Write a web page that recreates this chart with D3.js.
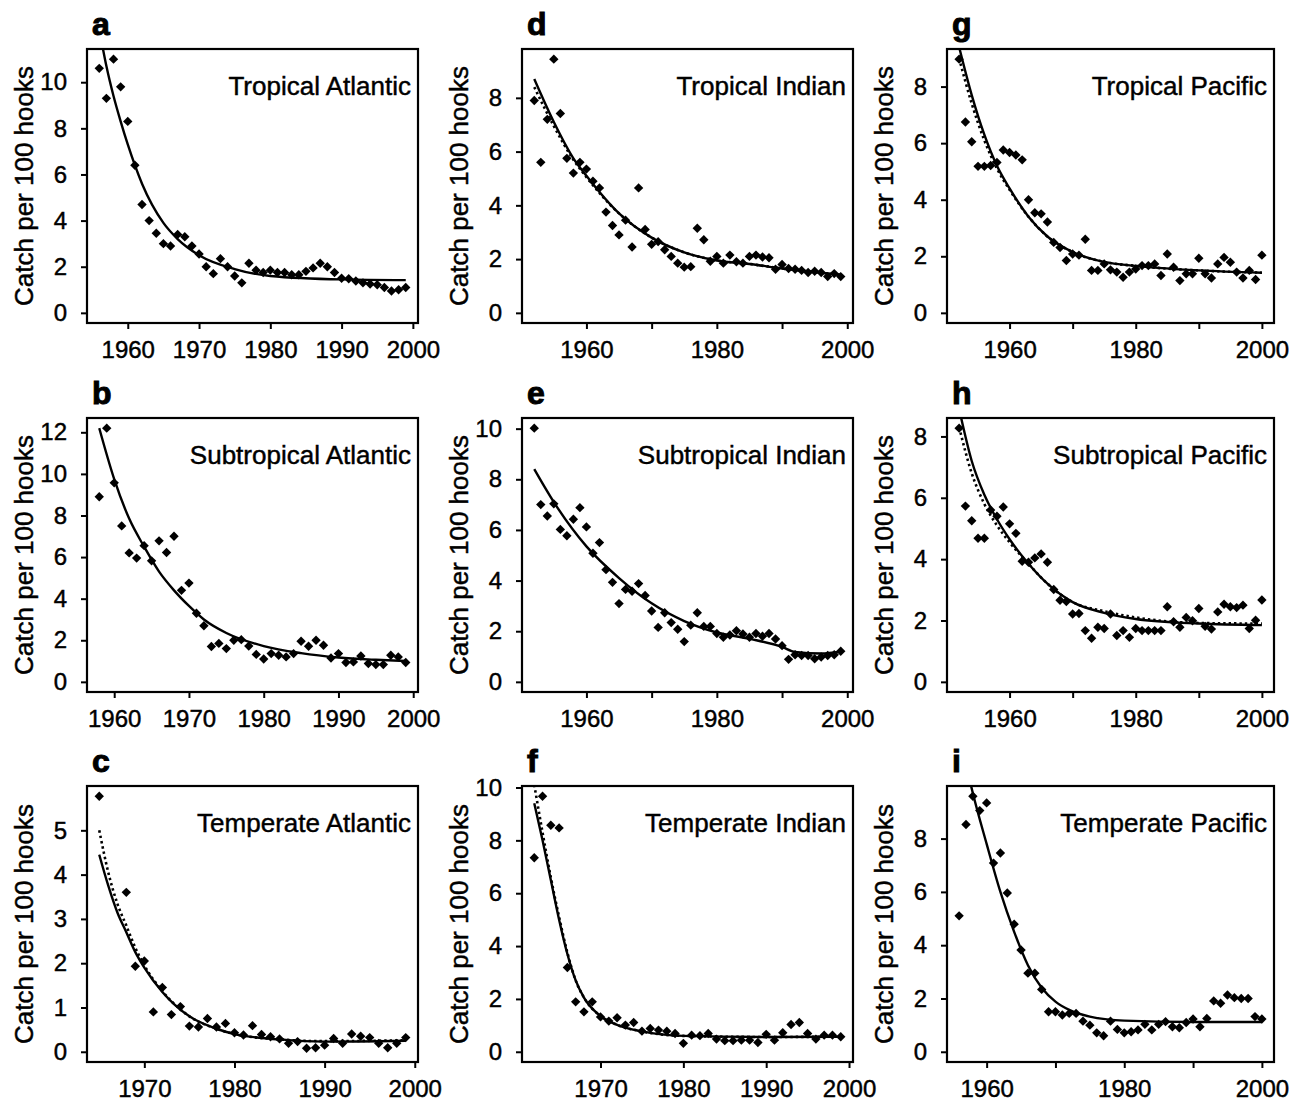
<!DOCTYPE html>
<html>
<head>
<meta charset="utf-8">
<script src="https://cdn.jsdelivr.net/npm/d3@7"></script>
<style>
  body { margin: 0; background: #fff; }
  text { font-family: "Liberation Sans", Arial, Helvetica, sans-serif; fill: #000; stroke: #000; stroke-width: 0.45px; }
</style>
</head>
<body>
<div id="chart"></div>
<script>
// ---------------------------- DATA ----------------------------
const panelLetters = ["a", "b", "c", "d", "e", "f", "g", "h", "i"];
const panelTitles = ["Tropical Atlantic", "Subtropical Atlantic", "Temperate Atlantic",
  "Tropical Indian", "Subtropical Indian", "Temperate Indian",
  "Tropical Pacific", "Subtropical Pacific", "Temperate Pacific"];
const firstYears = [1956, 1958, 1965, 1952, 1952, 1962, 1952, 1952, 1956];

// catch per 100 hooks, one value per year from firstYears (null = no data)
const aCatch = [10.6, 9.3, 11.0, 9.8, 8.3, 6.4, 4.7, 4.0, 3.45, 3.0, 2.9, 3.4, 3.3, 2.9, 2.55,
  2.0, 1.7, 2.35, 2.0, 1.6, 1.3, 2.15, 1.85, 1.75, 1.85, 1.75, 1.75, 1.65, 1.65, 1.8, 1.95, 2.15,
  2.0, 1.75, 1.5, 1.48, 1.38, 1.3, 1.25, 1.22, 1.1, 0.95, 1.0, 1.1];
const bCatch = [8.9, 12.2, 9.57, 7.5, 6.2, 5.95, 6.55, 5.82, 6.78, 6.22, 7.0, 4.4, 4.75, 3.3, 2.7,
  1.7, 1.85, 1.6, 2.0, 2.03, 1.72, 1.32, 1.1, 1.36, 1.28, 1.2, 1.36, 1.95, 1.71, 2.0, 1.76, 1.15,
  1.36, 0.93, 0.96, 1.24, 0.88, 0.83, 0.83, 1.28, 1.2, 0.93];
const cCatch = [5.77, null, null, 3.6, 1.93, 2.05, 0.9, 1.45, 0.84, 1.02, 0.58, 0.56, 0.75, 0.56,
  0.64, 0.43, 0.38, 0.59, 0.39, 0.34, 0.29, 0.19, 0.23, 0.08, 0.09, 0.15, 0.3, 0.19, 0.4, 0.35,
  0.32, 0.19, 0.09, 0.19, 0.32];
const dCatch = [7.9, 5.6, 7.2, 9.44, 7.42, 5.75, 5.2, 5.6, 5.35, 4.9, 4.65, 3.75, 3.25, 2.9, 3.45,
  2.45, 4.65, 3.1, 2.55, 2.65, 2.35, 2.1, 1.85, 1.7, 1.72, 3.15, 2.72, 1.92, 2.1, 1.85, 2.15, 1.9,
  1.85, 2.1, 2.15, 2.08, 2.05, 1.62, 1.8, 1.65, 1.62, 1.58, 1.5, 1.55, 1.5, 1.35, 1.46, 1.35];
const eCatch = [10.02, 7.0, 6.55, 7.03, 6.02, 5.77, 6.42, 6.88, 6.12, 5.08, 5.5, 4.43, 3.93, 3.09,
  3.65, 3.58, 3.88, 3.41, 2.8, 2.15, 2.73, 2.34, 2.08, 1.59, 2.24, 2.73, 2.19, 2.19, 1.91, 1.76,
  1.85, 2.02, 1.89, 1.76, 1.91, 1.8, 1.91, 1.69, 1.43, 0.89, 1.07, 1.04, 1.04, 0.91, 0.98, 1.04,
  1.07, 1.21];
const fCatch = [7.34, 9.67, 8.57, 8.47, 3.19, 1.89, 1.51, 1.89, 1.32, 1.16, 1.29, 1.01, 1.11, 0.78,
  0.88, 0.82, 0.78, 0.69, 0.32, 0.63, 0.61, 0.69, 0.48, 0.42, 0.42, 0.44, 0.44, 0.35, 0.66, 0.44,
  0.72, 1.03, 1.11, 0.69, 0.48, 0.63, 0.63, 0.57];
const gCatch = [8.97, 6.75, 6.05, 5.18, 5.18, 5.21, 5.32, 5.76, 5.67, 5.58, 5.41, 4.0, 3.54, 3.5,
  3.21, 2.49, 2.31, 1.85, 2.08, 2.04, 2.6, 1.5, 1.5, 1.73, 1.52, 1.44, 1.26, 1.44, 1.55, 1.67,
  1.67, 1.73, 1.32, 2.08, 1.61, 1.14, 1.38, 1.38, 1.93, 1.38, 1.23, 1.73, 1.96, 1.79, 1.44, 1.23,
  1.5, 1.18, 2.04];
const hCatch = [8.27, 5.73, 5.25, 4.68, 4.68, 5.6, 5.4, 5.7, 5.15, 4.84, 3.93, 3.9, 4.04, 4.17,
  3.9, 3.01, 2.66, 2.62, 2.21, 2.23, 1.67, 1.42, 1.78, 1.74, 2.21, 1.51, 1.67, 1.45, 1.74, 1.67,
  1.67, 1.67, 1.67, 2.45, 1.96, 1.78, 2.1, 1.99, 2.39, 1.81, 1.72, 2.28, 2.53, 2.45, 2.42, 2.5,
  1.74, 2.01, 2.67];
const iCatch = [5.1, 8.53, 9.59, 9.05, 9.34, 7.08, 7.46, 5.96, 4.79, 3.82, 2.95, 2.95, 2.34, 1.5,
  1.5, 1.38, 1.44, 1.44, 1.15, 1.0, 0.71, 0.6, 1.15, 0.84, 0.71, 0.75, 0.82, 1.03, 0.82, 1.03,
  1.13, 0.94, 0.9, 1.1, 1.23, 0.94, 1.25, 1.91, 1.82, 2.13, 2.03, 2.0, 2.0, 1.32, 1.23];

const aFitYears = [1956, 1957, 1958, 1959, 1960, 1962, 1965, 1967, 1970, 1975, 1980, 1990, 1999];
const aFit = [12.3, 10.7, 9.4, 8.3, 7.3, 5.6, 3.9, 3.2, 2.5, 1.9, 1.6, 1.45, 1.42];
const bFitYears = [1958, 1960, 1962, 1964, 1966, 1968, 1970, 1972, 1975, 1980, 1985, 1990, 1995, 1999];
const bFit = [12.2, 9.75, 7.85, 6.5, 5.3, 4.4, 3.65, 3.0, 2.35, 1.72, 1.38, 1.17, 1.06, 1.0];
const cFitYears = [1965, 1966, 1967, 1968, 1969, 1970, 1972, 1975, 1978, 1980, 1985, 1990, 1999];
const cFit = [4.45, 3.75, 3.15, 2.7, 2.25, 1.9, 1.35, 0.8, 0.52, 0.4, 0.28, 0.23, 0.25];
const cFitDot = [5.0, 4.05, 3.35, 2.85, 2.35, 1.95, 1.37, 0.8, 0.52, 0.4, 0.28, 0.24, 0.26];
const dFitYears = [1952, 1955, 1958, 1960, 1965, 1970, 1975, 1980, 1985, 1990, 1999];
const dFit = [8.7, 7.1, 5.75, 5.1, 3.7, 2.8, 2.25, 1.95, 1.82, 1.65, 1.42];
const dFitDot = [8.4, 6.95, 5.7, 5.05, 3.7, 2.8, 2.25, 1.95, 1.82, 1.65, 1.42];
const eFitYears = [1952, 1955, 1960, 1965, 1970, 1975, 1980, 1985, 1990, 1992, 1996, 1999];
const eFit = [8.4, 7.1, 5.35, 4.1, 3.1, 2.4, 1.95, 1.7, 1.38, 1.18, 1.12, 1.2];
const fFitYears = [1962, 1963, 1964, 1965, 1966, 1967, 1968, 1970, 1972, 1975, 1980, 1990, 1999];
const fFit = [9.4, 8.0, 6.5, 5.0, 3.7, 2.7, 2.05, 1.35, 1.02, 0.77, 0.6, 0.56, 0.57];
const fFitDot = [10.1, 8.3, 6.6, 5.1, 3.75, 2.7, 2.05, 1.35, 1.02, 0.77, 0.6, 0.56, 0.57];
const gFitYears = [1952, 1954, 1956, 1958, 1960, 1963, 1966, 1970, 1975, 1980, 1990, 2000];
const gFit = [9.4, 7.7, 6.3, 5.2, 4.4, 3.4, 2.7, 2.15, 1.8, 1.66, 1.5, 1.42];
const gFitDot = [9.0, 7.4, 6.1, 5.1, 4.35, 3.4, 2.7, 2.15, 1.8, 1.66, 1.5, 1.42];
const hFitYears = [1952, 1954, 1956, 1958, 1960, 1963, 1966, 1970, 1975, 1980, 1990, 2000];
const hFit = [8.9, 7.2, 6.1, 5.3, 4.65, 3.85, 3.2, 2.6, 2.25, 2.05, 1.9, 1.85];
const hFitDot = [8.3, 6.8, 5.8, 5.1, 4.55, 3.85, 3.2, 2.6, 2.3, 2.1, 1.92, 1.9];
const iFitYears = [1956, 1957, 1958, 1960, 1962, 1964, 1966, 1968, 1970, 1972, 1975, 1980, 1990, 2000];
const iFit = [12.0, 10.8, 9.7, 7.8, 6.0, 4.5, 3.25, 2.4, 1.88, 1.57, 1.32, 1.17, 1.12, 1.12];

// axis ticks
const yTicks = [[0, 2, 4, 6, 8, 10], [0, 2, 4, 6, 8, 10, 12], [0, 1, 2, 3, 4, 5],
  [0, 2, 4, 6, 8], [0, 2, 4, 6, 8, 10], [0, 2, 4, 6, 8, 10],
  [0, 2, 4, 6, 8], [0, 2, 4, 6, 8], [0, 2, 4, 6, 8]];
const xTicks60 = [1960, 1970, 1980, 1990, 2000];
const xTicks70 = [1970, 1980, 1990, 2000];
const xLabels20 = [1960, 1980, 2000];

const panels = [
  { catch: aCatch, fitYears: aFitYears, fit: aFit, dot: null, xTicks: xTicks60, xLabels: xTicks60 },
  { catch: bCatch, fitYears: bFitYears, fit: bFit, dot: null, xTicks: xTicks60, xLabels: xTicks60 },
  { catch: cCatch, fitYears: cFitYears, fit: cFit, dot: cFitDot, xTicks: xTicks70, xLabels: xTicks70 },
  { catch: dCatch, fitYears: dFitYears, fit: dFit, dot: dFitDot, xTicks: xTicks60, xLabels: xLabels20 },
  { catch: eCatch, fitYears: eFitYears, fit: eFit, dot: null, xTicks: xTicks60, xLabels: xLabels20 },
  { catch: fCatch, fitYears: fFitYears, fit: fFit, dot: fFitDot, xTicks: xTicks70, xLabels: xTicks70 },
  { catch: gCatch, fitYears: gFitYears, fit: gFit, dot: gFitDot, xTicks: xTicks60, xLabels: xLabels20 },
  { catch: hCatch, fitYears: hFitYears, fit: hFit, dot: hFitDot, xTicks: xTicks60, xLabels: xLabels20 },
  { catch: iCatch, fitYears: iFitYears, fit: iFit, dot: null, xTicks: xTicks60, xLabels: xLabels20 }
];

// --------------------------- LAYOUT ---------------------------
const width = 1302;
const height = 1101;
const colLeft = [87, 522, 947];
const colWidth = [331, 331, 327];
const rowTop = [49, 418, 786];
const rowHeight = [274, 274, 276];

const svg = d3.select("#chart").append("svg")
  .attr("width", width)
  .attr("height", height);

const diamond = d3.symbol().type(d3.symbolSquare).size(44);

panels.forEach(function (p, k) {
  const col = Math.floor(k / 3), row = k % 3;
  const w = colWidth[col], h = rowHeight[row];

  const pts = p.catch.map(function (v, i) {
    return { year: firstYears[k] + i, value: v };
  }).filter(function (d) { return d.value !== null; });

  // R style axis limits: data range stretched by 4%
  const yr = d3.extent(pts, function (d) { return d.year; });
  const xpad = (yr[1] - yr[0]) * 0.04;
  const vmax = d3.max(pts, function (d) { return d.value; });

  const xScale = d3.scaleLinear().domain([yr[0] - xpad, yr[1] + xpad]).range([0, w]);
  const yScale = d3.scaleLinear().domain([-0.04 * vmax, 1.04 * vmax]).range([h, 0]);

  const g = svg.append("g")
    .attr("transform", "translate(" + colLeft[col] + "," + rowTop[row] + ")");

  g.append("clipPath").attr("id", "clip-" + k)
    .append("rect").attr("width", w).attr("height", h);

  //----------------------------AXES-----------------------------//
  const yaxis = d3.axisLeft(yScale)
    .tickValues(yTicks[k])
    .tickSize(6)
    .tickPadding(14)
    .tickFormat(d3.format("d"));
  const xaxis = d3.axisBottom(xScale)
    .tickValues(p.xTicks)
    .tickSize(6)
    .tickPadding(12)
    .tickFormat(function (d) { return p.xLabels.indexOf(d) >= 0 ? d : ""; });

  const gy = g.append("g").call(yaxis);
  const gx = g.append("g").attr("transform", "translate(0," + h + ")").call(xaxis);
  [gx, gy].forEach(function (a) {
    a.select(".domain").remove();
    a.selectAll("line").attr("stroke", "#000").attr("stroke-width", 2);
    a.selectAll("text")
      .attr("font-family", "'Liberation Sans', Arial, sans-serif")
      .style("font-size", "24px")
      .attr("fill", "#000");
  });

  g.append("text")
    .attr("transform", "translate(-54," + (h / 2) + ") rotate(-90)")
    .attr("text-anchor", "middle")
    .style("font-size", "26px")
    .text("Catch per 100 hooks");

  //----------------------------LINES----------------------------//
  const line = d3.line()
    .x(function (d) { return xScale(d[0]); })
    .y(function (d) { return yScale(d[1]); })
    .curve(d3.curveMonotoneX);

  const lines = g.append("g").attr("clip-path", "url(#clip-" + k + ")");
  if (p.dot) {
    lines.append("path")
      .attr("d", line(d3.zip(p.fitYears, p.dot)))
      .attr("fill", "none")
      .attr("stroke", "#000")
      .attr("stroke-width", 2.6)
      .attr("stroke-dasharray", "2.4,3");
  }
  lines.append("path")
    .attr("d", line(d3.zip(p.fitYears, p.fit)))
    .attr("fill", "none")
    .attr("stroke", "#000")
    .attr("stroke-width", 2.4);

  //----------------------------POINTS---------------------------//
  g.append("g").selectAll("path")
    .data(pts)
    .enter()
    .append("path")
    .attr("d", diamond)
    .attr("transform", function (d) {
      return "translate(" + xScale(d.year) + "," + yScale(d.value) + ") rotate(45)";
    })
    .attr("fill", "#000");

  // frame
  g.append("rect")
    .attr("width", w).attr("height", h)
    .attr("fill", "none")
    .attr("stroke", "#000")
    .attr("stroke-width", 2.2);

  // labels
  g.append("text")
    .attr("x", w - 7)
    .attr("y", 46)
    .attr("text-anchor", "end")
    .style("font-size", "26px")
    .text(panelTitles[k]);

  g.append("text")
    .attr("x", 5)
    .attr("y", -14)
    .style("font-size", "32px")
    .style("font-weight", "bold")
    .style("stroke-width", "1px")
    .text(panelLetters[k]);
});
</script>
</body>
</html>
